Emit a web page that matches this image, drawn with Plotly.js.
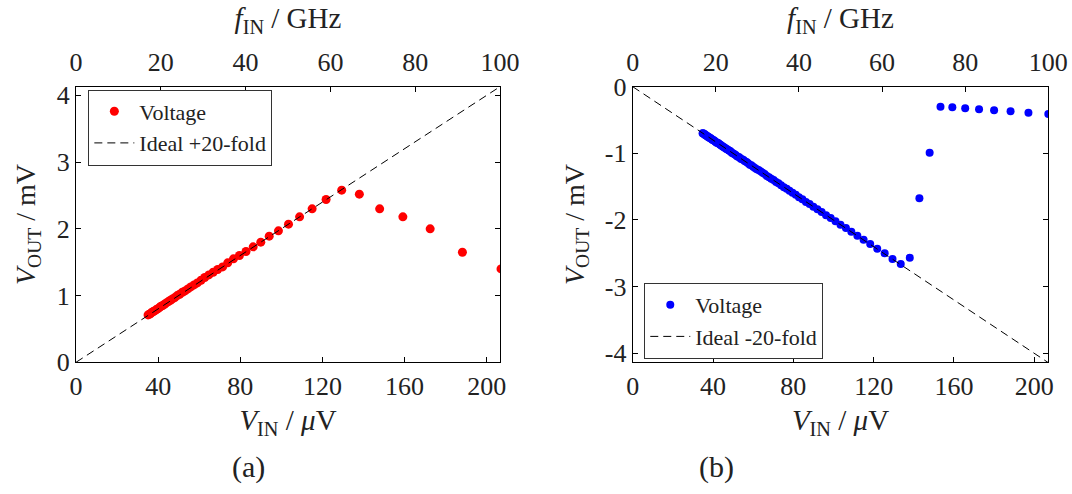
<!DOCTYPE html>
<html>
<head>
<meta charset="utf-8">
<script src="https://cdn.plot.ly/plotly-3.0.1.min.js"></script>
<style>html,body{margin:0;padding:0;background:#fff;}#chart{width:1072px;height:494px;}</style>
</head>
<body>
<div id="chart"></div>
<script>
// ---- data ----
// (a) positive gain: V_IN in µV, V_OUT in mV
const vinA = [207.0,188.2,172.5,159.2,147.9,138.0,129.4,121.8,115.0,108.9,103.5,98.6,94.1,90.0,86.3,82.8,79.6,76.7,73.9,71.4,
  69.0,66.8,64.7,62.7,60.9,59.1,57.5,55.9,54.5,53.1,51.8,50.5,49.3,48.1,47.0,46.0,45.0,44.0,43.1,42.2,41.4,40.6,39.8,39.1,38.3,37.6,37.0,36.3,35.7,35.1];
const voutA = [1.40,1.65,2.00,2.18,2.30,2.52,2.58,2.44,2.30,2.18,2.07,1.97,1.89,1.80,1.73,1.66,1.60,1.55,1.49,1.43,
  1.39,1.35,1.31,1.27,1.23,1.19,1.16,1.13,1.10,1.07,1.05,1.02,1.00,0.97,0.95,0.93,0.91,0.89,0.87,0.85,0.84,0.82,0.80,0.79,0.77,0.76,0.75,0.73,0.72,0.71];
// (b) negative gain
const vinB = [207.0,197.1,188.2,180.0,172.5,165.6,159.2,153.3,147.9,142.8,138.0,133.5,129.4,125.5,121.8,118.3,115.0,111.9,108.9,106.2,
  103.5,101.0,98.6,96.3,94.1,92.0,90.0,88.1,86.3,84.5,82.8,81.2,79.6,78.1,76.7,75.3,73.9,72.6,71.4,70.2,
  69.0,67.9,66.8,65.7,64.7,63.7,62.7,61.8,60.9,60.0,59.1,58.3,57.5,56.7,55.9,55.2,54.5,53.8,53.1,52.4,
  51.8,51.1,50.5,49.9,49.3,48.7,48.1,47.6,47.0,46.5,46.0,45.5,45.0,44.5,44.0,43.6,43.1,42.7,42.2,41.8,
  41.4,41.0,40.6,40.2,39.8,39.4,39.1,38.7,38.3,38.0,37.6,37.3,37.0,36.6,36.3,36.0,35.7,35.4,35.1,34.8];
const voutB = [-0.41,-0.39,-0.37,-0.355,-0.34,-0.325,-0.31,-0.30,-0.99,-1.675,-2.565,-2.66,-2.585,-2.50,-2.43,-2.36,-2.295,-2.235,-2.175,-2.12,
  -2.07,-2.02,-1.97,-1.93,-1.88,-1.84,-1.80,-1.76,-1.73,-1.69,-1.66,-1.62,-1.59,-1.56,-1.53,-1.51,-1.48,-1.45,-1.43,-1.40,
  -1.38,-1.36,-1.34,-1.31,-1.29,-1.27,-1.25,-1.24,-1.22,-1.20,-1.18,-1.17,-1.15,-1.13,-1.12,-1.10,-1.09,-1.08,-1.06,-1.05,
  -1.04,-1.02,-1.01,-1.00,-0.99,-0.97,-0.96,-0.95,-0.94,-0.93,-0.92,-0.91,-0.90,-0.89,-0.88,-0.87,-0.86,-0.85,-0.84,-0.84,
  -0.83,-0.82,-0.81,-0.80,-0.80,-0.79,-0.78,-0.77,-0.77,-0.76,-0.75,-0.75,-0.74,-0.73,-0.73,-0.72,-0.71,-0.71,-0.70,-0.70];
// ideal gain lines (endpoints)
const idealX = [0, 207];
const idealYA = [0, 4.14];
const idealYB = [0, -4.14];
// tick labels
const vinTicks = [0, 40, 80, 120, 160, 200];
const freqTicks = [0, 20, 40, 60, 80, 100];
const voutTicksA = [0, 1, 2, 3, 4];
const voutTicksB = [0, -1, -2, -3, -4];
const voutTextB = ['0', '-1', '-2', '-3', '-4'];

// ---- styling ----
const FONT = '"Liberation Serif", "Times New Roman", Times, serif';
const TXT = '#222';

function tf(size) { return {family: FONT, size: size, color: TXT}; }

function xBottom(domain, anchor, rng) {
  return {domain: domain, anchor: anchor, range: rng, tickmode: 'array', tickvals: vinTicks,
    ticks: 'inside', ticklen: 5, tickcolor: '#000', showline: true, linecolor: '#000', linewidth: 1,
    showgrid: false, zeroline: false, tickfont: tf(26), ticklabelstandoff: 1,
    title: {text: '<i>V</i><sub>IN</sub> / <i>μ</i>V', font: tf(29), standoff: 9}};
}
function xTop(over, anchor) {
  return {overlaying: over, anchor: anchor, side: 'top', range: [0, 100], tickmode: 'array', tickvals: freqTicks,
    ticks: 'inside', ticklen: 5, tickcolor: '#000', showline: true, linecolor: '#000', linewidth: 1,
    showgrid: false, zeroline: false, tickfont: tf(26), ticklabelstandoff: 4,
    title: {text: '<i>f</i><sub>IN</sub> / GHz', font: tf(29), standoff: 11}};
}
function yAx(domain, anchor, rng, vals, text) {
  const a = {domain: domain, anchor: anchor, range: rng, tickmode: 'array', tickvals: vals,
    ticks: 'inside', ticklen: 5, tickcolor: '#000', showline: true, linecolor: '#000', linewidth: 1, mirror: 'ticks',
    showgrid: false, zeroline: false, tickfont: tf(26),
    title: {text: '<i>V</i><sub>OUT</sub> / mV', font: tf(28), standoff: 12}};
  if (text) a.ticktext = text;
  return a;
}

const yDom = [0.2666, 0.8245];
const traces = [
  {x: vinA, y: voutA, xaxis: 'x', yaxis: 'y', type: 'scatter', mode: 'markers', name: 'Voltage',
   marker: {color: '#ff0000', size: 9}, legend: 'legend'},
  {x: idealX, y: idealYA, xaxis: 'x', yaxis: 'y', type: 'scatter', mode: 'lines', name: 'Ideal +20-fold',
   line: {color: '#000', width: 1, dash: '8px,5px'}, legend: 'legend'},
  {x: freqTicks, y: freqTicks.map(() => null), xaxis: 'x2', yaxis: 'y', type: 'scatter', mode: 'markers',
   showlegend: false, hoverinfo: 'skip'},
  {x: vinB, y: voutB, xaxis: 'x3', yaxis: 'y3', type: 'scatter', mode: 'markers', name: 'Voltage',
   marker: {color: '#0000ff', size: 8}, legend: 'legend2'},
  {x: idealX, y: idealYB, xaxis: 'x3', yaxis: 'y3', type: 'scatter', mode: 'lines', name: 'Ideal -20-fold',
   line: {color: '#000', width: 1, dash: '8px,5px'}, legend: 'legend2'},
  {x: freqTicks, y: freqTicks.map(() => null), xaxis: 'x4', yaxis: 'y3', type: 'scatter', mode: 'markers',
   showlegend: false, hoverinfo: 'skip'}
];

function legendAt(x, y) {
  return {x: x, y: y, xanchor: 'left', yanchor: 'middle', bgcolor: '#fff', bordercolor: '#333', borderwidth: 1,
    font: tf(22), tracegroupgap: 0, itemwidth: 40};
}

const layout = {
  width: 1072, height: 494, autosize: false,
  margin: {l: 0, r: 0, t: 0, b: 0},
  paper_bgcolor: '#fff', plot_bgcolor: '#fff',
  font: tf(22),
  xaxis: xBottom([0.0709, 0.4664], 'y', [0, 206.5]),
  xaxis2: xTop('x', 'y'),
  yaxis: yAx(yDom, 'x', [0, 4.13], voutTicksA),
  xaxis3: xBottom([0.5902, 0.9779], 'y3', [0, 207]),
  xaxis4: xTop('x3', 'y3'),
  yaxis3: yAx(yDom, 'x3', [-4.135, 0], voutTicksB, voutTextB),
  legend: legendAt(0.0824, 1 - 127.5 / 494),
  legend2: legendAt(0.601, 1 - 321 / 494),
  showlegend: true,
  annotations: [
    {text: '(a)', xref: 'paper', yref: 'paper', x: 248 / 1072, y: 1 - 467 / 494, showarrow: false,
     xanchor: 'center', yanchor: 'middle', font: tf(30)},
    {text: '(b)', xref: 'paper', yref: 'paper', x: 716 / 1072, y: 1 - 467 / 494, showarrow: false,
     xanchor: 'center', yanchor: 'middle', font: tf(30)}
  ]
};

Plotly.newPlot('chart', traces, layout, {displayModeBar: false, staticPlot: true});
</script>
</body>
</html>
